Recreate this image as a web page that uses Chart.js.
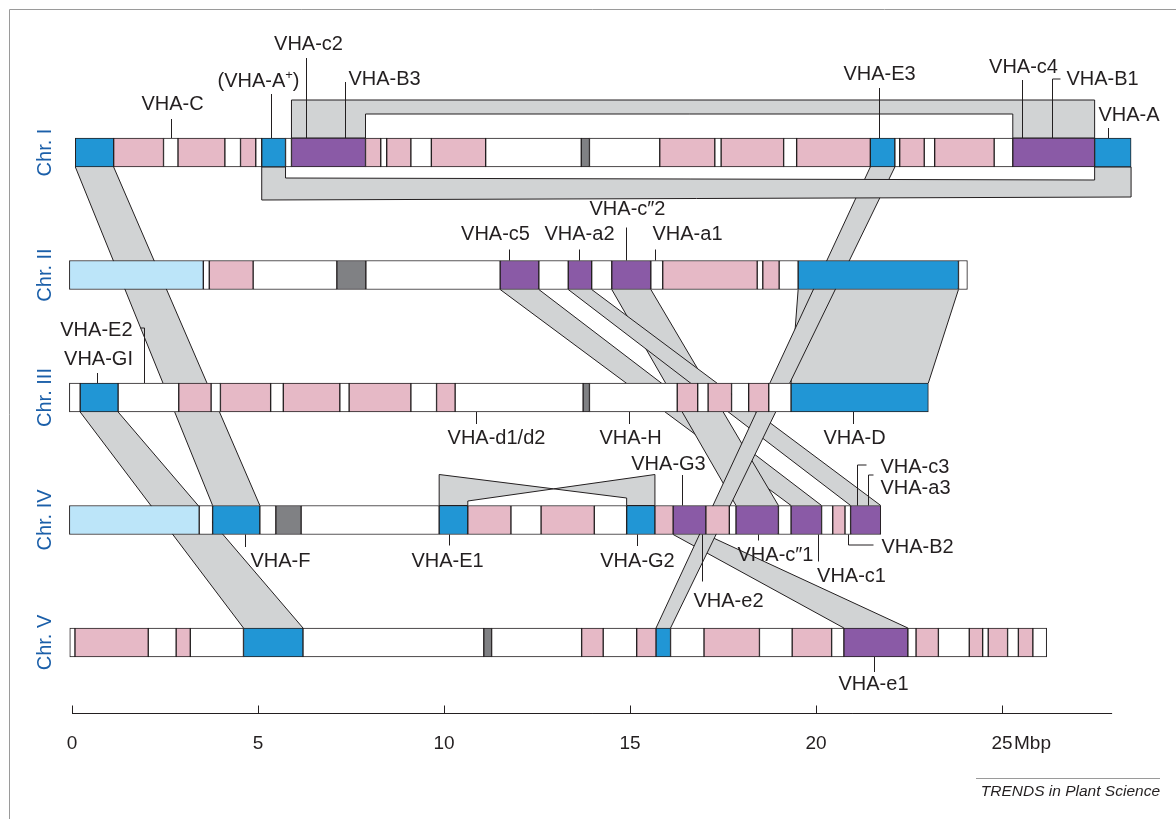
<!DOCTYPE html>
<html lang="en">
<head>
<meta charset="UTF-8" />
<title>V-ATPase genes on the five chromosomes</title>
<script src="https://cdn.jsdelivr.net/npm/chart.js"></script>
<style>
  body { margin:0; background:#fff; }
  .wrap { position:relative; width:1176px; height:819px; }
</style>
</head>
<body>
<div class="wrap"><canvas id="chart"></canvas></div>
<script>
const chromosomes = ['Chr. I', 'Chr. II', 'Chr. III', 'Chr. IV', 'Chr. V'];

// block boundaries in Mbp, one kind letter per interval
// B gene block, L light block, P duplicated block, U purple block, D centromere, W empty
const chr1Edges = [0.09,1.12,2.46,2.85,4.11,4.53,4.94,5.10,5.74,5.90,7.89,8.30,8.46,9.11,9.66,11.12,13.69,13.91,15.80,17.28,17.45,19.13,19.48,21.46,22.12,22.25,22.91,23.19,24.79,25.29,27.49,28.47];
const chr1Kinds = 'BPWPWPWBWUPWPWPWDWPWPWPBWPWPWUB';
const chr2Edges = [-0.07,3.53,3.69,4.87,7.12,7.90,11.51,12.55,13.34,13.97,14.51,15.56,15.88,18.42,18.57,19.01,19.52,23.83,24.07];
const chr2Kinds = 'LWPWDWUWUWUWPWPWBW';
const chr3Edges = [-0.07,0.22,1.24,2.87,3.74,3.99,5.34,5.68,7.20,7.45,9.11,9.80,10.30,13.74,13.91,16.27,16.82,17.10,17.73,18.19,18.73,19.33,23.02];
const chr3Kinds = 'WBWPWPWPWPWPWDWPWPWPWB';
const chr4Edges = [-0.07,3.42,3.78,5.05,5.48,6.16,9.87,10.64,11.80,12.61,14.04,14.91,15.67,16.16,17.04,17.67,17.85,18.99,19.33,20.15,20.45,20.78,20.93,21.74];
const chr4Kinds = 'LWBWDWBPWPWBPUPWUWUWPWU';
const chr5Edges = [-0.06,0.08,2.05,2.80,3.18,4.61,6.21,11.07,11.28,13.70,14.28,15.18,15.70,16.09,16.99,18.48,19.36,20.42,20.75,22.47,22.69,23.29,24.12,24.48,24.63,25.15,25.44,25.83,26.20];
const chr5Kinds = 'WPWPWBWDWPWPBWPWPWUWPWPWPWPW';

// links between chromosomes: [fromChr, start, end, toChr, start, end]
const links = [
  [1, 0.09, 1.12, 4, 3.78, 5.05],
  [3, 0.22, 1.24, 5, 4.61, 6.21],
  [2, 19.52, 23.83, 3, 19.33, 23.02],
  [2, 11.51, 12.55, 4, 19.33, 20.15],
  [2, 14.51, 15.56, 4, 17.85, 18.99],
  [2, 13.34, 13.97, 4, 20.93, 21.74],
  [4, 16.16, 17.04, 5, 20.75, 22.47],
  [1, 21.46, 22.12, 5, 15.70, 16.09]
];
// duplications inside one chromosome: [chr, startA, endA, startB, endB]
const chr1Upper = [1, 5.90, 7.89, 25.29, 27.49];
const chr1Lower = [1, 5.10, 5.74, 27.49, 28.47];
const chr4Twist = [4, 9.87, 10.64, 14.91, 15.67];

const geneNames = ['VHA-C','(VHA-A+)','VHA-c2','VHA-B3','VHA-E3','VHA-c4','VHA-B1','VHA-A',
  'VHA-c5','VHA-a2','VHA-c\u20332','VHA-a1',
  'VHA-GI','VHA-E2','VHA-d1/d2','VHA-H','VHA-D',
  'VHA-G3','VHA-c3','VHA-a3','VHA-F','VHA-E1','VHA-G2','VHA-e2','VHA-c\u20331','VHA-c1','VHA-B2',
  'VHA-e1'];
const geneChr = [1,1,1,1,1,1,1,1, 2,2,2,2, 3,3,3,3,3, 4,4,4,4,4,4,4,4,4,4, 5];
const genePos = [2.65,5.34,6.30,7.33,21.70,25.54,26.34,27.85,
  11.76,13.62,14.89,15.66,
  0.66,1.94,10.86,14.98,21.00,
  16.39,21.11,21.41,4.65,10.14,15.20,16.93,18.45,20.06,20.87,
  21.56];

const tickValues = [0, 5, 10, 15, 20, 25];
const tickLabels = ['0', '5', '10', '15', '20', '25'];
const axisEnd = 27.96;

// label placement: side, leader length, hook, text offset x, baseline offset from bar edge, align
const geneLayout = [
  {s:-1,len:19,tx:1,ty:-28}, {s:-1,len:44,tx:-13,ty:-51}, {s:-1,len:80,tx:2,ty:-88},
  {s:-1,len:56,tx:3,ty:-53,a:'left'}, {s:-1,len:50,tx:0,ty:-58}, {s:-1,len:58,tx:1,ty:-65},
  {s:-1,len:59,hook:8,tx:14,ty:-53,a:'left'}, {s:-1,len:10,tx:-10,ty:-17,a:'left'},
  {s:-1,len:11,tx:-14,ty:-20.5}, {s:-1,len:11,tx:0,ty:-20.5}, {s:-1,len:33,tx:1,ty:-45.5}, {s:-1,len:11,tx:32,ty:-20.5},
  {s:-1,len:10,tx:1,ty:-18}, {s:-1,len:55,hook:-4,tx:-12,ty:-47,a:'right'},
  {s:1,len:12,tx:20,ty:32}, {s:1,len:12,tx:1,ty:32}, {s:1,len:12,tx:1,ty:32},
  {s:-1,len:30.5,tx:-14,ty:-35.5}, {s:-1,len:40.5,hook:9,tx:23,ty:-32.5,a:'left'}, {s:-1,len:30.5,hook:5,tx:12,ty:-11.5,a:'left'},
  {s:1,len:12.5,tx:5,ty:32.5,a:'left'}, {s:1,len:11,tx:-2,ty:32.5}, {s:1,len:11.5,tx:0,ty:32.5},
  {s:1,len:47,tx:-9,ty:72.5,a:'left'}, {s:1,len:6,tx:17,ty:26.5}, {s:1,len:27,tx:33,ty:47.5},
  {s:1,len:10.5,hook:25,tx:33,ty:18.5,a:'left'},
  {s:1,len:15,tx:-1,ty:33}
];

const fills = { B:'#2196d5', L:'#bce5f9', P:'#e6b9c6', U:'#8a5aa6', D:'#808184', W:'#ffffff' };
const INK = '#231f20', GREY = '#d1d3d4', CHR_BLUE = '#1b5fa9';
const HALF = 14.5;
const FONT = '20px "Liberation Sans", Arial, sans-serif';

const allEdges = [chr1Edges, chr2Edges, chr3Edges, chr4Edges, chr5Edges];
const allKinds = [chr1Kinds, chr2Kinds, chr3Kinds, chr4Kinds, chr5Kinds];
const segments = [], segColors = [];
allEdges.forEach((edges, r) => {
  allKinds[r].split('').forEach((k, i) => {
    segments.push({ x: [edges[i], edges[i + 1]], y: r + 1 });
    segColors.push(fills[k]);
  });
});

function poly(ctx, pts, stroke) {
  ctx.beginPath();
  pts.forEach((p, i) => i ? ctx.lineTo(p[0], p[1]) : ctx.moveTo(p[0], p[1]));
  ctx.closePath();
  ctx.fill();
  if (stroke) ctx.stroke();
}

function cross(a, b, c, d) {
  const den = (a[0]-b[0])*(c[1]-d[1]) - (a[1]-b[1])*(c[0]-d[0]);
  const t = ((a[0]-c[0])*(c[1]-d[1]) - (a[1]-c[1])*(c[0]-d[0])) / den;
  return [a[0] + t*(b[0]-a[0]), a[1] + t*(b[1]-a[1])];
}

const linkPlugin = {
  id: 'links',
  beforeDatasetsDraw(chart) {
    const ctx = chart.ctx, xs = chart.scales.x, ys = chart.scales.y;
    const X = v => xs.getPixelForValue(v);
    ctx.save();
    ctx.fillStyle = GREY; ctx.strokeStyle = INK; ctx.lineWidth = 1;
    links.forEach(([ra, a0, a1, rb, b0, b1]) => {
      const yA = ys.getPixelForValue(ra) + HALF, yB = ys.getPixelForValue(rb) - HALF;
      poly(ctx, [[X(a0), yA], [X(a1), yA], [X(b1), yB], [X(b0), yB]], false);
      ctx.beginPath();
      ctx.moveTo(X(a0), yA); ctx.lineTo(X(b0), yB);
      ctx.moveTo(X(a1), yA); ctx.lineTo(X(b1), yB);
      ctx.stroke();
    });

    // upper loop on Chr. I
    let [r, s0, s1, t0, t1] = chr1Upper;
    let top = ys.getPixelForValue(r) - HALF;
    poly(ctx, [[X(s0), top], [X(s0), top-38], [X(t1), top-38], [X(t1), top],
               [X(t0), top], [X(t0), top-24], [X(s1), top-24], [X(s1), top]], true);

    // lower loop on Chr. I
    [r, s0, s1, t0, t1] = chr1Lower;
    const bot = ys.getPixelForValue(r) + HALF;
    poly(ctx, [[X(s0), bot], [X(s0), bot+33], [X(t1), bot+30], [X(t1), bot],
               [X(t0), bot], [X(t0), bot+13], [X(s1), bot+11], [X(s1), bot]], true);

    // inverted link on Chr. IV
    [r, s0, s1, t0, t1] = chr4Twist;
    top = ys.getPixelForValue(r) - HALF;
    const p1 = [X(s0), top-31], p2 = [X(t0), top-7.5], q1 = [X(t1), top-31], q2 = [X(s1), top-4.5];
    const m = cross(p1, p2, q1, q2);
    poly(ctx, [[X(s0), top], p1, m, q2, [X(s1), top]], true);
    poly(ctx, [[X(t1), top], q1, m, p2, [X(t0), top]], true);
    ctx.restore();
  }
};

function drawAplus(ctx, x, y) {
  const parts = ['(VHA-A', '+', ')'];
  ctx.font = FONT;
  const w0 = ctx.measureText(parts[0]).width, w2 = ctx.measureText(parts[2]).width;
  ctx.font = '13px "Liberation Sans", Arial, sans-serif';
  const w1 = ctx.measureText(parts[1]).width;
  let left = x - (w0 + w1 + w2) / 2;
  ctx.textAlign = 'left';
  ctx.font = FONT; ctx.fillText(parts[0], left, y);
  ctx.font = '13px "Liberation Sans", Arial, sans-serif'; ctx.fillText(parts[1], left + w0, y - 8);
  ctx.font = FONT; ctx.fillText(parts[2], left + w0 + w1, y);
}

const labelPlugin = {
  id: 'labels',
  afterDatasetsDraw(chart) {
    const ctx = chart.ctx, xs = chart.scales.x, ys = chart.scales.y;
    ctx.save();
    ctx.strokeStyle = INK; ctx.fillStyle = INK; ctx.lineWidth = 1;
    ctx.font = FONT; ctx.textBaseline = 'alphabetic';
    geneNames.forEach((name, i) => {
      const L = geneLayout[i];
      const x = Math.round(xs.getPixelForValue(genePos[i])) + 0.5;
      const edge = ys.getPixelForValue(geneChr[i]) + L.s * HALF;
      const end = edge + L.s * L.len;
      ctx.beginPath(); ctx.moveTo(x, edge); ctx.lineTo(x, end);
      if (L.hook) ctx.lineTo(x + L.hook, end);
      ctx.stroke();
      if (name === '(VHA-A+)') { drawAplus(ctx, x + L.tx, edge + L.ty); return; }
      ctx.font = FONT;
      ctx.textAlign = L.a || 'center';
      ctx.fillText(name, x + L.tx, edge + L.ty);
    });

    // chromosome names
    ctx.fillStyle = CHR_BLUE; ctx.textAlign = 'center'; ctx.textBaseline = 'middle';
    chromosomes.forEach((c, i) => {
      ctx.save();
      ctx.translate(45, ys.getPixelForValue(i + 1));
      ctx.rotate(-Math.PI / 2);
      ctx.fillText(c, 0, 0);
      ctx.restore();
    });
    ctx.restore();
  },
  afterDraw(chart) {
    const ctx = chart.ctx, xs = chart.scales.x, ys = chart.scales.y;
    const y0 = Math.round(ys.getPixelForValue(5) + 70.5) + 0.5;
    ctx.save();
    ctx.strokeStyle = INK; ctx.fillStyle = INK; ctx.lineWidth = 1;
    ctx.beginPath();
    ctx.moveTo(xs.getPixelForValue(0), y0); ctx.lineTo(xs.getPixelForValue(axisEnd), y0);
    tickValues.forEach(v => {
      const x = Math.round(xs.getPixelForValue(v)) + 0.5;
      ctx.moveTo(x, y0); ctx.lineTo(x, y0 - 8);
    });
    ctx.stroke();
    ctx.font = '19px "Liberation Sans", Arial, sans-serif';
    ctx.textAlign = 'center'; ctx.textBaseline = 'alphabetic';
    tickValues.forEach((v, i) => ctx.fillText(tickLabels[i], xs.getPixelForValue(v), y0 + 35));
    ctx.textAlign = 'left';
    ctx.fillText('Mbp', xs.getPixelForValue(25) + 12, y0 + 35);

    // frame and credit line
    ctx.strokeStyle = '#9a9a9a';
    ctx.beginPath();
    ctx.moveTo(9.5, 819); ctx.lineTo(9.5, 9.5); ctx.lineTo(1176, 9.5);
    ctx.moveTo(976, 778.5); ctx.lineTo(1160, 778.5);
    ctx.stroke();
    ctx.fillStyle = INK;
    ctx.font = 'italic 15.5px "Liberation Sans", Arial, sans-serif';
    ctx.textAlign = 'right';
    ctx.fillText('TRENDS in Plant Science', 1160, 796);
    ctx.restore();
  }
};

new Chart(document.getElementById('chart'), {
  type: 'bar',
  data: {
    datasets: [{
      data: segments,
      backgroundColor: segColors,
      borderColor: INK,
      borderWidth: 1,
      borderSkipped: false,
      barThickness: 29,
      grouped: false
    }]
  },
  options: {
    indexAxis: 'y',
    responsive: true,
    maintainAspectRatio: false,
    animation: false,
    layout: { padding: { left: 16.2, right: 25.2, top: 30, bottom: 54 } },
    scales: {
      x: { type: 'linear', min: -1.5, max: 29, display: false },
      y: { type: 'linear', min: 0, max: 6, reverse: true, offset: false, display: false }
    },
    plugins: { legend: { display: false }, tooltip: { enabled: false } }
  },
  plugins: [linkPlugin, labelPlugin]
});
</script>
</body>
</html>
